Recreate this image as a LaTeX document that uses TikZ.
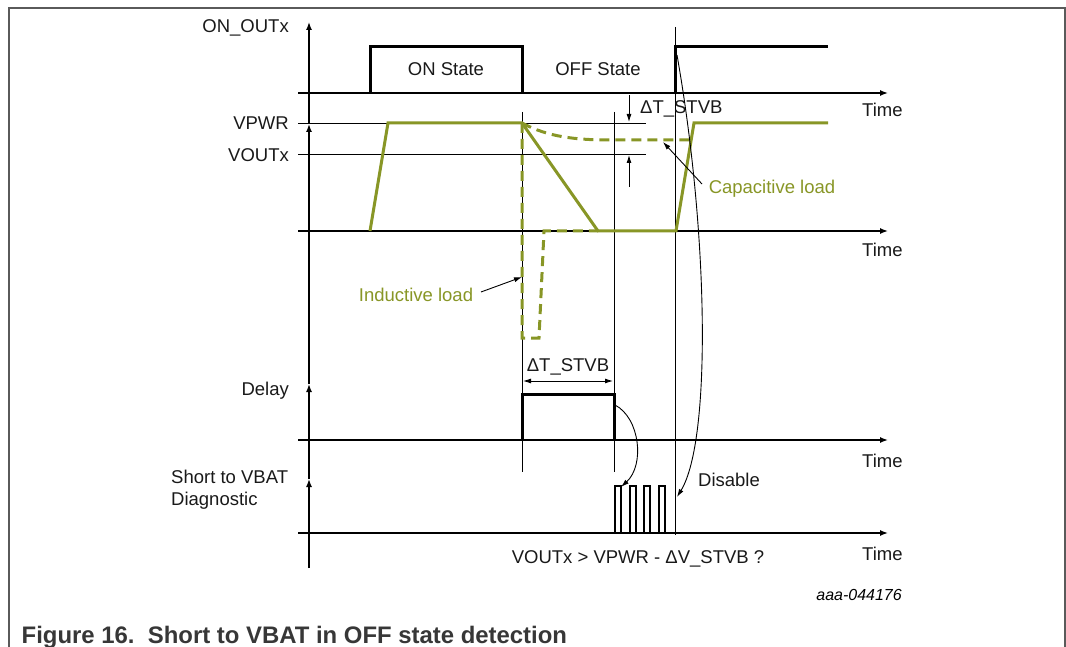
\documentclass[tikz,border=0pt]{standalone}
\usepackage{fontspec}
\setmainfont{Liberation Sans}
\usetikzlibrary{arrows.meta}
\definecolor{loadgreen}{RGB}{136,150,38}
\definecolor{framegray}{RGB}{90,90,90}
\definecolor{captiongray}{RGB}{55,55,55}
\begin{document}
\begin{tikzpicture}[x=1pt,y=-1pt,
  lbl/.style={font=\fontsize{18.5}{21.7}\selectfont, inner sep=0pt, text=black!90},
  glbl/.style={lbl, text=loadgreen},
  axisline/.style={line width=1.4pt, -{Latex[length=8pt,width=6pt]}},
  sigline/.style={line width=3pt, line join=miter, line cap=butt},
  thinline/.style={line width=0.9pt},
  grnline/.style={draw=loadgreen, line width=3pt, line join=miter},
  grndash/.style={grnline, dash pattern=on 10pt off 6pt},
  ptr/.style={line width=0.9pt, -{Latex[length=8pt,width=5pt]}},
  dimarrow/.style={line width=0.9pt, {Latex[length=8pt,width=5pt]}-{Latex[length=8pt,width=5pt]}},
  pulse/.style={line width=2pt, line join=miter}
]
\useasboundingbox (0,0) rectangle (1066,647);
% frame
\draw[framegray, line width=1.3pt] (9,647) -- (9,8) -- (1065,8) -- (1065,647);

% vertical axis with arrow heads
\draw[axisline] (309,568) -- (309,479);
\draw[axisline] (309,479) -- (309,384);
\draw[axisline] (309,384) -- (309,124);
\draw[axisline] (309,124) -- (309,22);

% horizontal axes
\coordinate (a1s) at (298,93);  \coordinate (a1e) at (888,93);
\coordinate (a2s) at (298,231); \coordinate (a2e) at (888,231);
\coordinate (a3s) at (298,440); \coordinate (a3e) at (888,440);
\coordinate (a4s) at (298,533); \coordinate (a4e) at (888,533);
\draw[axisline] (a1s) -- (a1e);
\draw[axisline] (a2s) -- (a2e);
\draw[axisline] (a3s) -- (a3e);
\draw[axisline] (a4s) -- (a4e);

% reference levels
\draw[thinline] (298,123) -- (646,123);
\draw[thinline] (298,154) -- (646,154);

% vertical markers
\draw[thinline] (522,112) -- (522,472);
\draw[thinline] (614,112) -- (614,472);
\draw[thinline] (675,27) -- (675,535);

% axis labels
\node[lbl, anchor=base east] (lon) at (289,33) {ON\_OUTx};
\node[lbl, anchor=base east] (lvpwr) at (289,130) {VPWR};
\node[lbl, anchor=base east] (lvout) at (289,161.5) {VOUTx};
\node[lbl, anchor=base east] (ldelay) at (289,395) {Delay};
\node[lbl, anchor=base west] (lsh1) at (171,483.3) {Short to VBAT};
\node[lbl, anchor=base west] (lsh2) at (171,505) {Diagnostic};

\node[lbl, anchor=base west] (t1) at (862,116.7) {Time};
\node[lbl, anchor=base west] (t2) at (862,256.7) {Time};
\node[lbl, anchor=base west] (t3) at (862,467) {Time};
\node[lbl, anchor=base west] (t4) at (862,560) {Time};

% ON_OUTx signal
\draw[sigline] (370,93) -- (370,47) -- (522,47) -- (522,93);
\draw[sigline] (675,93) -- (675,47) -- (828,47);
\node[lbl, anchor=base] (onst) at (446,76) {ON State};
\node[lbl, anchor=base] (offst) at (598,76) {OFF State};

% VOUT signals
\draw[grnline] (370,231) -- (388,123) -- (522,123) -- (598,231) -- (676,231) -- (694,123) -- (828,123);
\draw[grndash] (522,123) -- (522,338) -- (539,338) -- (544,231) -- (598,231);
\draw[grndash] (522,123) .. controls (548,137) and (575,140) .. (612,140) -- (690,140);

% Delta T_STVB at top
\node[lbl, anchor=base west] (dtop) at (640,113.3) {ΔT\_STVB};
\coordinate (dd1) at (629,95);  \coordinate (dd2) at (629,122);
\coordinate (du1) at (629,187); \coordinate (du2) at (629,155);
\draw[ptr] (dd1) -- (dd2);
\draw[ptr] (du1) -- (du2);

% load labels
\node[glbl, anchor=base] (cap) at (772,193.3) {Capacitive load};
\coordinate (caps) at (702,184);
\coordinate (capt) at (663,142);
\draw[ptr] (caps) -- (capt);
\node[glbl, anchor=base] (ind) at (416,301.7) {Inductive load};
\coordinate (inds) at (481,292);
\coordinate (indt) at (522,277);
\draw[ptr] (inds) -- (indt);

% Delay signal
\draw[sigline] (522,440) -- (522,394) -- (614,394) -- (614,440);
\node[lbl, anchor=base] (dbot) at (568,371.7) {ΔT\_STVB};
\coordinate (dl) at (523,381); \coordinate (dr) at (613,381);
\draw[dimarrow] (dl) -- (dr);

% diagnostic pulses
\foreach \i in {0,1,2,3}{
  \draw[pulse] ({615+14.7*\i},533) -- ({615+14.7*\i},486) -- ({621+14.7*\i},486) -- ({621+14.7*\i},533);
}

% curved arrows
\coordinate (c1s) at (615,405); \coordinate (c1e) at (621,487);
\draw[ptr] (c1s) .. controls (640,418) and (645,465) .. (c1e);
\coordinate (c2s) at (677,55); \coordinate (c2e) at (677,497);
\draw[ptr] (c2s) .. controls (708,230) and (712,440) .. (c2e);

\node[lbl, anchor=base] (dis) at (729,486) {Disable};
\node[lbl, anchor=base] (cond) at (638,563.3) {VOUTx > VPWR - ΔV\_STVB ?};

% figure id and caption
\node[inner sep=0pt, anchor=base east, font=\fontsize{16}{19}\selectfont\itshape] (fid) at (902,600.7) {aaa-044176};
\node[inner sep=0pt, anchor=base west, text=captiongray, font=\fontsize{23.9}{28}\selectfont\bfseries] (capt2) at (21.5,643) {Figure 16.\ \ Short to VBAT in OFF state detection};
\end{tikzpicture}
\end{document}
